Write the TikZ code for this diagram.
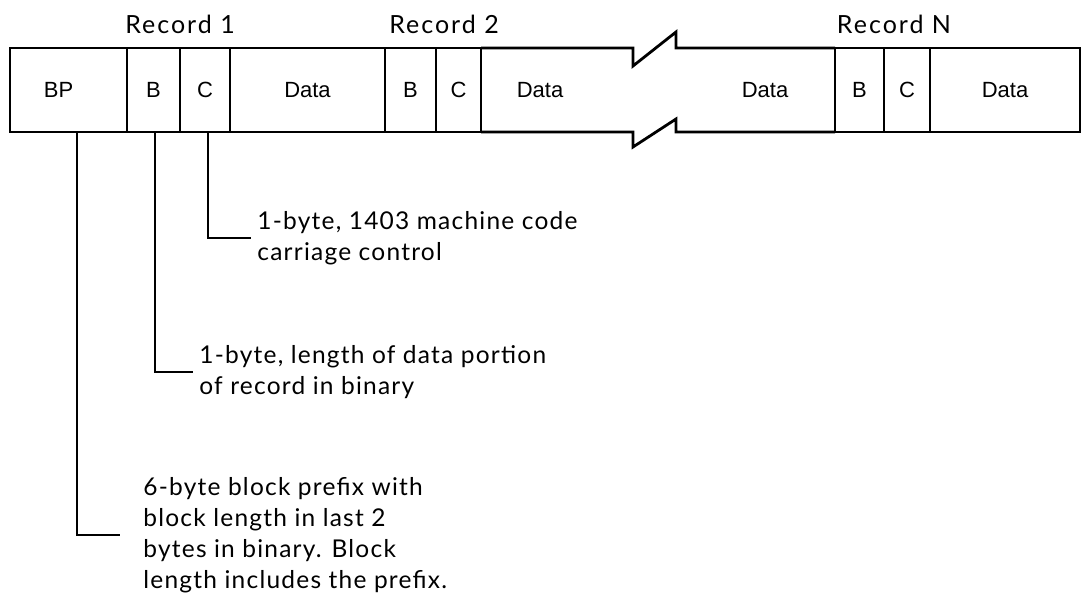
\documentclass[tikz,border=0pt]{standalone}
\usepackage{fontspec}
\setmainfont{Lato}[LetterSpace=5]
\newfontfamily\boxfont{Liberation Sans}
\usepackage{tikz}
\usetikzlibrary{positioning}
\tikzset{
	field/.style={draw=black, minimum height=84pt, inner sep=0pt, outer sep=0pt,
		font=\boxfont\fontsize{22}{26}\selectfont},
	fieldtext/.style={inner sep=0pt, font=\boxfont\fontsize{22}{26}\selectfont},
	record/.style={anchor=base, inner sep=0pt, font=\addfontfeatures{LetterSpace=8}\fontsize{25}{30}\selectfont},
	note/.style={align=left, anchor=west, inner sep=5pt, font=\fontsize{24.5}{31}\selectfont},
	leader/.style={draw=black},
}

\begin{document}
\begin{tikzpicture}[x=1pt, y=-1pt, line width=2.8pt]
	\useasboundingbox (0,0) rectangle (1082,597);
	\node[record] (rec1) at (180,33) {Record 1};
	\node[record] (rec2) at (444,33) {Record 2};
	\node[record] (recN) at (894,33) {Record N};
	\node[field, minimum width=117pt] (bp) at (68.5,90) {BP\hspace*{20pt}};
	\node[field, minimum width=53pt] (b1) at (153.5,90) {B};
	\node[field, minimum width=50pt] (c1) at (205,90) {C};
	\node[field, minimum width=155pt] (d1) at (307.5,90) {Data};
	\node[field, minimum width=51pt] (b2) at (410.5,90) {B};
	\node[field, minimum width=45pt] (c2) at (458.5,90) {C};
	\node[fieldtext] (d2) at (540,90) {Data};
	\node[fieldtext] (d3) at (765,90) {Data};
	\node[field, minimum width=49pt] (bN) at (859.5,90) {B};
	\node[field, minimum width=46pt] (cN) at (907,90) {C};
	\node[field, minimum width=150pt] (dN) at (1005,90) {Data};
	\draw (c2.north east) -- (633,48) -- (633,66) -- (676,32) -- (676,48) -- (bN.north west);
	\draw (c2.south east) -- (633,132) -- (633,147) -- (676,119) -- (676,132) -- (bN.south west);
	\node[note] (cnote) at (251,238) {1-byte, 1403 machine code\\carriage control};
	\node[note] (bnote) at (193,372) {1-byte, length of data portion\\of record in binary};
	\node[note, inner xsep=22pt] (bpnote) at (120,535) {6-byte block prefix with\\block length in last 2\\bytes in binary. Block\\length includes the prefix.};
	\draw[leader] ([xshift=3pt]c1.south) |- (cnote.west);
	\draw[leader] ([xshift=1.5pt]b1.south) |- (bnote.west);
	\draw[leader] ([xshift=8.5pt]bp.south) |- (bpnote.west);
\end{tikzpicture}
\end{document}
